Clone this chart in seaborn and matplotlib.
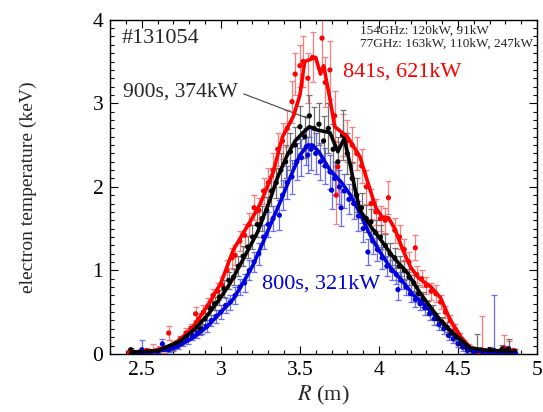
import numpy as np
import pandas as pd
import matplotlib
matplotlib.use("Agg")
import matplotlib.pyplot as plt
from matplotlib.ticker import MultipleLocator
import seaborn as sns

sns.set_style("ticks")
plt.rcParams['font.family'] = ['Liberation Serif', 'DejaVu Serif']
plt.rcParams['mathtext.fontset'] = 'stix'

# --- 841s, 621kW (red) ---
red_R = [2.42, 2.49, 2.53, 2.57, 2.61, 2.64, 2.67, 2.70, 2.74, 2.78, 2.81, 2.84, 2.86, 2.89,
         2.92, 2.95, 2.98, 3.01, 3.04, 3.07, 3.09, 3.12, 3.15, 3.18, 3.21, 3.24, 3.27, 3.30,
         3.33, 3.36, 3.39, 3.42, 3.45, 3.47, 3.50, 3.52, 3.55, 3.58, 3.64, 3.66, 3.69, 3.72,
         3.73, 3.74, 3.77, 3.80, 3.83, 3.86, 3.89, 3.92, 3.95, 3.98, 4.01, 4.04, 4.06, 4.10,
         4.13, 4.16, 4.19, 4.23, 4.24, 4.27, 4.30, 4.33, 4.36, 4.39, 4.42, 4.45, 4.48, 4.51,
         4.54, 4.57, 4.60, 4.63, 4.65, 4.68, 4.71, 4.74, 4.77, 4.79, 4.82, 4.85]
red_Te = [0.02, 0.01, 0.04, 0.02, 0.05, 0.06, 0.25, 0.10, 0.17, 0.25, 0.30, 0.48, 0.42, 0.50,
          0.58, 0.70, 0.75, 0.82, 1.00, 1.15, 1.18, 1.35, 1.42, 1.55, 1.75, 1.72, 1.95, 2.05,
          2.20, 2.45, 2.55, 2.70, 3.02, 3.35, 3.45, 3.50, 3.30, 3.55, 3.78, 3.25, 3.40, 2.85,
          1.90, 2.24, 2.62, 2.55, 2.50, 2.40, 2.25, 2.00, 1.80, 1.70, 1.62, 1.60, 1.87, 1.48,
          1.40, 1.25, 1.10, 1.27, 0.95, 0.90, 0.82, 0.75, 0.72, 0.62, 0.50, 0.40, 0.30, 0.20,
          0.12, 0.08, 0.03, 0.02, 0.05, 0.02, 0.04, 0.03, 0.02, 0.07, 0.05, 0.04]
red_err = [0.02, 0.02, 0.03, 0.10, 0.04, 0.05, 0.08, 0.05, 0.05, 0.06, 0.06, 0.08, 0.07, 0.08,
           0.09, 0.08, 0.10, 0.10, 0.12, 0.12, 0.12, 0.12, 0.14, 0.14, 0.15, 0.15, 0.16, 0.17,
           0.20, 0.20, 0.22, 0.22, 0.25, 0.25, 0.25, 0.30, 0.30, 0.30, 0.35, 0.30, 0.35, 0.30,
           0.35, 0.30, 0.25, 0.25, 0.22, 0.20, 0.20, 0.20, 0.18, 0.16, 0.15, 0.15, 0.20, 0.15,
           0.14, 0.13, 0.12, 0.15, 0.10, 0.10, 0.10, 0.10, 0.10, 0.08, 0.07, 0.07, 0.06, 0.05,
           0.05, 0.04, 0.03, 0.03, 0.40, 0.03, 0.03, 0.03, 0.04, 0.16, 0.10, 0.03]
red_fit_R = [2.42, 2.55, 2.65, 2.72, 2.81, 2.87, 2.93, 3.00, 3.08, 3.19, 3.25, 3.33, 3.39,
             3.46, 3.50, 3.53, 3.60, 3.63, 3.65, 3.67, 3.69, 3.72, 3.80, 3.88, 3.93, 3.98,
             4.02, 4.06, 4.10, 4.15, 4.20, 4.25, 4.33, 4.39, 4.45, 4.52, 4.58, 4.65, 4.75, 4.85]
red_fit_Te = [0.02, 0.03, 0.07, 0.14, 0.29, 0.45, 0.62, 0.85, 1.25, 1.60, 1.80, 2.17, 2.60,
              2.85, 3.10, 3.50, 3.55, 3.35, 3.45, 3.25, 3.05, 2.72, 2.60, 2.36, 2.05, 1.75,
              1.64, 1.63, 1.50, 1.25, 1.04, 0.91, 0.80, 0.67, 0.41, 0.20, 0.07, 0.04, 0.03, 0.03]

# --- 900s, 374kW (black) ---
blk_R = [2.43, 2.48, 2.55, 2.60, 2.65, 2.69, 2.72, 2.75, 2.78, 2.81, 2.84, 2.87, 2.90, 2.93,
         2.96, 2.99, 3.02, 3.05, 3.08, 3.11, 3.14, 3.17, 3.20, 3.23, 3.26, 3.29, 3.32, 3.35,
         3.38, 3.41, 3.44, 3.47, 3.50, 3.53, 3.56, 3.59, 3.62, 3.65, 3.68, 3.71, 3.74, 3.77,
         3.80, 3.83, 3.86, 3.89, 3.92, 3.95, 3.98, 4.01, 4.04, 4.07, 4.10, 4.13, 4.16, 4.19,
         4.22, 4.25, 4.28, 4.31, 4.34, 4.37, 4.40, 4.43, 4.46, 4.49, 4.52, 4.55, 4.58, 4.62,
         4.66, 4.70, 4.74, 4.78, 4.82, 4.86]
blk_Te = [0.05, 0.02, 0.01, 0.04, 0.06, 0.08, 0.12, 0.16, 0.22, 0.27, 0.33, 0.30, 0.42, 0.55,
          0.60, 0.68, 0.78, 0.88, 0.92, 1.05, 1.17, 1.28, 1.40, 1.55, 1.62, 1.72, 1.95, 2.05,
          2.20, 2.30, 2.42, 2.50, 2.72, 2.60, 2.85, 2.70, 2.75, 2.55, 2.70, 2.45, 2.30, 2.62,
          2.40, 2.10, 1.90, 1.75, 1.62, 1.58, 1.45, 1.40, 1.30, 1.20, 1.15, 1.05, 1.00, 0.92,
          0.85, 0.72, 0.65, 0.55, 0.50, 0.42, 0.38, 0.32, 0.25, 0.20, 0.12, 0.08, 0.05, 0.04,
          0.03, 0.05, 0.02, 0.06, 0.06, 0.03]
blk_err = [0.02, 0.02, 0.02, 0.03, 0.03, 0.04, 0.05, 0.05, 0.05, 0.06, 0.06, 0.07, 0.07, 0.08,
           0.08, 0.09, 0.10, 0.10, 0.10, 0.12, 0.12, 0.13, 0.14, 0.15, 0.15, 0.16, 0.18, 0.18,
           0.20, 0.20, 0.22, 0.22, 0.25, 0.25, 0.25, 0.25, 0.25, 0.30, 0.30, 0.30, 0.30, 0.30,
           0.25, 0.20, 0.20, 0.18, 0.16, 0.15, 0.15, 0.14, 0.14, 0.13, 0.12, 0.12, 0.11, 0.10,
           0.10, 0.10, 0.09, 0.08, 0.08, 0.07, 0.06, 0.06, 0.05, 0.05, 0.05, 0.04, 0.04, 0.20,
           0.03, 0.03, 0.03, 0.05, 0.12, 0.03]
blk_fit_R = [2.43, 2.60, 2.74, 2.83, 2.91, 2.99, 3.06, 3.12, 3.23, 3.31, 3.36, 3.42, 3.47,
             3.52, 3.56, 3.61, 3.69, 3.74, 3.78, 3.82, 3.85, 3.88, 3.95, 4.01, 4.09, 4.18,
             4.26, 4.33, 4.39, 4.45, 4.50, 4.58, 4.70, 4.85]
blk_fit_Te = [0.02, 0.04, 0.15, 0.29, 0.45, 0.65, 0.85, 1.06, 1.45, 1.84, 2.12, 2.38, 2.55,
              2.65, 2.72, 2.68, 2.65, 2.42, 2.58, 2.25, 1.96, 1.72, 1.52, 1.37, 1.16, 0.97,
              0.73, 0.55, 0.40, 0.28, 0.20, 0.07, 0.04, 0.03]

# --- 800s, 321kW (blue) ---
blu_R = [2.45, 2.50, 2.55, 2.60, 2.63, 2.67, 2.70, 2.73, 2.76, 2.79, 2.82, 2.85, 2.88, 2.91,
         2.94, 2.97, 3.00, 3.03, 3.06, 3.09, 3.12, 3.15, 3.18, 3.21, 3.24, 3.27, 3.30, 3.33,
         3.37, 3.39, 3.42, 3.45, 3.48, 3.51, 3.54, 3.55, 3.57, 3.60, 3.63, 3.66, 3.69, 3.70,
         3.72, 3.75, 3.76, 3.78, 3.81, 3.84, 3.87, 3.90, 3.93, 3.96, 3.99, 4.02, 4.05, 4.08,
         4.11, 4.12, 4.14, 4.17, 4.20, 4.23, 4.26, 4.29, 4.32, 4.35, 4.38, 4.41, 4.44, 4.47,
         4.50, 4.53, 4.56, 4.60, 4.65, 4.69, 4.73, 4.77, 4.81, 4.85]
blu_Te = [0.02, 0.05, 0.01, 0.03, 0.12, 0.05, 0.07, 0.10, 0.14, 0.17, 0.22, 0.25, 0.30, 0.33,
          0.40, 0.45, 0.50, 0.58, 0.62, 0.70, 0.80, 0.85, 1.00, 1.10, 1.20, 1.40, 1.55, 1.62,
          1.66, 1.90, 2.05, 2.12, 2.30, 2.35, 2.48, 2.38, 2.45, 2.40, 2.30, 2.25, 2.18, 1.96,
          2.10, 2.00, 1.75, 1.95, 1.85, 1.80, 1.65, 1.50, 1.22, 1.35, 1.25, 1.15, 1.05, 1.00,
          0.95, 0.77, 0.88, 0.80, 0.72, 0.65, 0.60, 0.55, 0.48, 0.42, 0.35, 0.30, 0.22, 0.18,
          0.12, 0.08, 0.04, 0.02, 0.03, 0.02, 0.04, 0.03, 0.05, 0.02]
blu_err = [0.02, 0.12, 0.02, 0.03, 0.06, 0.03, 0.04, 0.04, 0.05, 0.05, 0.05, 0.06, 0.06, 0.07,
           0.07, 0.08, 0.08, 0.09, 0.09, 0.10, 0.10, 0.11, 0.12, 0.12, 0.13, 0.14, 0.15, 0.15,
           0.18, 0.18, 0.20, 0.20, 0.22, 0.22, 0.22, 0.22, 0.25, 0.25, 0.22, 0.22, 0.20, 0.22,
           0.20, 0.20, 0.22, 0.20, 0.18, 0.18, 0.18, 0.16, 0.16, 0.15, 0.14, 0.13, 0.12, 0.12,
           0.11, 0.12, 0.10, 0.10, 0.10, 0.09, 0.08, 0.08, 0.07, 0.07, 0.06, 0.06, 0.05, 0.05,
           0.04, 0.04, 0.03, 0.02, 0.03, 0.02, 0.66, 0.03, 0.05, 0.02]
blu_fit_R = [2.45, 2.60, 2.72, 2.83, 2.91, 3.00, 3.08, 3.14, 3.20, 3.27, 3.33, 3.38, 3.44,
             3.50, 3.55, 3.58, 3.62, 3.69, 3.76, 3.82, 3.87, 3.95, 4.01, 4.07, 4.14, 4.22,
             4.28, 4.34, 4.40, 4.47, 4.53, 4.58, 4.70, 4.87]
blu_fit_Te = [0.01, 0.03, 0.08, 0.20, 0.32, 0.50, 0.66, 0.85, 1.05, 1.35, 1.62, 1.84, 2.12,
              2.38, 2.50, 2.50, 2.42, 2.20, 2.06, 1.90, 1.72, 1.40, 1.21, 1.04, 0.89, 0.70,
              0.60, 0.49, 0.37, 0.25, 0.13, 0.05, 0.02, 0.01]

series = [
    # name, R, Te, err, fit R, fit Te, line colour, bar colour
    ("841s", red_R, red_Te, red_err, red_fit_R, red_fit_Te, "#ff0000", "#ff7a7a"),
    ("800s", blu_R, blu_Te, blu_err, blu_fit_R, blu_fit_Te, "#0000dd", "#6a6aff"),
    ("900s", blk_R, blk_Te, blk_err, blk_fit_R, blk_fit_Te, "#000000", "#707070"),
]

fig, ax = plt.subplots(figsize=(5.43, 4.12), dpi=100)
fig.subplots_adjust(left=0.203, right=0.989, bottom=0.141, top=0.952)

for name, R, Te, err, fR, fTe, col, bcol in series:
    df = pd.DataFrame({"R": R, "Te": Te, "err": err})
    fit = pd.DataFrame({"R": fR, "Te": fTe})
    ax.errorbar(df["R"], df["Te"], yerr=df["err"], fmt="none", ecolor=bcol,
                elinewidth=0.9, capsize=2.5, capthick=0.9, zorder=2)
    sns.scatterplot(data=df, x="R", y="Te", ax=ax, color=col, s=14,
                    edgecolor="none", zorder=3)
    sns.lineplot(data=fit, x="R", y="Te", ax=ax, color=col, linewidth=2.6,
                 sort=False, estimator=None, zorder=4)

ax.set_xlim(2.3, 5)
ax.set_ylim(0, 4)
ax.xaxis.set_major_locator(MultipleLocator(0.5))
ax.xaxis.set_minor_locator(MultipleLocator(0.1))
ax.yaxis.set_major_locator(MultipleLocator(1))
ax.yaxis.set_minor_locator(MultipleLocator(0.1))
ax.set_xticks([2.5, 3, 3.5, 4, 4.5, 5])
ax.set_xticklabels(["2.5", "3", "3.5", "4", "4.5", "5"])
ax.tick_params(which="both", direction="in", top=True, right=True, labelsize=15.5,
               colors="black", width=0.8)
ax.tick_params(which="major", length=6, pad=5)
ax.tick_params(which="minor", length=3)
for sp in ax.spines.values():
    sp.set_color("black")
    sp.set_linewidth(1.0)

ax.set_xlabel("$R$ (m)", fontsize=16, labelpad=3)
ax.set_ylabel("electron temperature (keV)", fontsize=14, labelpad=40)

ax.text(2.37, 3.78, "#131054", fontsize=16, va="center", ha="left")
ax.text(3.88, 3.87, "154GHz: 120kW, 91kW", fontsize=9.5, va="center", ha="left")
ax.text(3.88, 3.71, "77GHz: 163kW, 110kW, 247kW", fontsize=9.5, va="center", ha="left")
ax.text(3.77, 3.37, "841s, 621kW", fontsize=16, color="#ff0000", va="center", ha="left")
ax.text(3.26, 0.84, "800s, 321kW", fontsize=16, color="#0000dd", va="center", ha="left")
ax.annotate("900s, 374kW", xy=(3.55, 2.82), xytext=(2.38, 3.14), fontsize=15.5,
            va="center", ha="left",
            arrowprops=dict(arrowstyle="-", color="#444444", lw=0.8,
                            shrinkA=2, shrinkB=0, relpos=(1.0, 0.5)))

plt.savefig("out.png", dpi=100)
plt.close()
